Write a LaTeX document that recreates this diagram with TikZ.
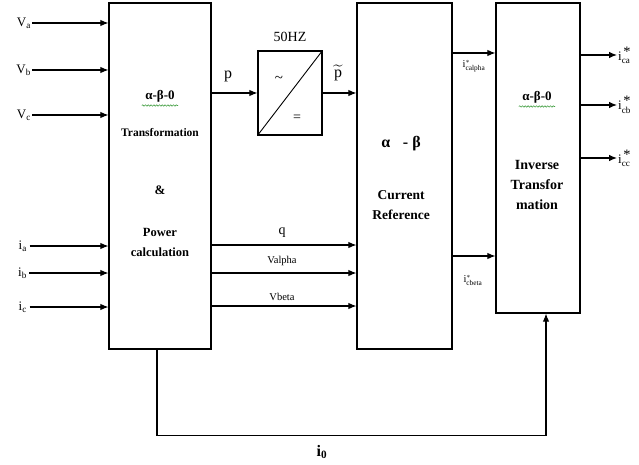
\documentclass[tikz,border=0pt]{standalone}
\usepackage{amsmath}
\usepackage{fontspec}
\setmainfont{Liberation Serif}
\usetikzlibrary{arrows.meta,positioning,decorations.pathmorphing}
\definecolor{wavyGreen}{RGB}{70,160,70}

\begin{document}
\begin{tikzpicture}[x=1pt,y=-1pt,
    blk/.style={draw,line width=1.2pt,inner sep=0pt},
    sig/.style={-{Latex[length=8pt,width=6.5pt]},line width=1.1pt},
    lbl/.style={font=\fontsize{13}{14}\selectfont,inner sep=1pt},
    small/.style={font=\fontsize{10.5}{11}\selectfont,inner sep=1pt},
    btxt/.style={font=\fontsize{11.5}{13}\selectfont\bfseries,align=center},
    wavy/.style={wavyGreen,line width=0.6pt,decorate,decoration={snake,amplitude=0.7pt,segment length=2.8pt}}]
  \useasboundingbox (0,0) rectangle (639,465);
  % blocks
  \node[blk,minimum width=102pt,minimum height=346pt] (clarke) at (160,176) {};
  \node[blk,minimum width=64pt,minimum height=84pt] (lpf) at (290,93) {};
  \node[blk,minimum width=95pt,minimum height=346pt] (curref) at (404.5,176) {};
  \node[blk,minimum width=84pt,minimum height=310pt] (invt) at (538,158) {};
  % block texts
  \node[btxt,font=\fontsize{13}{14}\selectfont\bfseries] (abz) at (160,96) {α-β-0};
  \draw[wavy] (abz.south west) -- (abz.south east);
  \node[btxt] (trans) at (160,133) {Transformation};
  \node[btxt,font=\fontsize{13}{14}\selectfont\bfseries] (amp) at (160,190) {\&};
  \node[btxt,font=\fontsize{12.5}{20}\selectfont\bfseries] (power) at (160,242) {Power\\calculation};
  \node[btxt,font=\fontsize{16}{17}\selectfont\bfseries] (ab) at (401,144) {α\hspace{0.8em}- β};
  \node[btxt,font=\fontsize{13.5}{20}\selectfont\bfseries] (cref) at (401,205) {Current\\Reference};
  \node[btxt,font=\fontsize{13}{14}\selectfont\bfseries] (abzi) at (537,97) {α-β-0};
  \draw[wavy] (abzi.south west) -- (abzi.south east);
  \node[btxt,font=\fontsize{14}{20}\selectfont\bfseries] (inv) at (537,185) {Inverse\\Transfor\\mation};
  % filter
  \node[font=\fontsize{14}{15}\selectfont] (hz) at (290,37) {50HZ};
  \draw[line width=0.9pt] (lpf.south west) -- (lpf.north east);
  \node[font=\fontsize{15}{15}\selectfont] (tl) at (279,79) {\textasciitilde};
  \node[font=\fontsize{14}{14}\selectfont] (eq) at (297,118) {=};
  % inputs
  \foreach \nm/\lab/\yy in {va/V\textsubscript{a}/23,vb/V\textsubscript{b}/70,vc/V\textsubscript{c}/115}{
    \node[lbl,anchor=east] (\nm) at (32,\yy) {\lab};
    \draw[sig] (\nm) -- (\nm -| clarke.west);
  }
  \foreach \nm/\lab/\yy in {ia/i\textsubscript{a}/246,ib/i\textsubscript{b}/273,ic/i\textsubscript{c}/307}{
    \node[lbl,anchor=east] (\nm) at (28,\yy) {\lab};
    \draw[sig] (\nm) ++(7,0) -- (\nm -| clarke.west);
  }
  % p and p tilde
  \draw[sig] (clarke.east |- lpf) -- (lpf);
  \node[font=\fontsize{16}{16}\selectfont] (plab) at (228,76) {p};
  \draw[sig] (lpf) -- (lpf -| curref.west);
  \node[font=\fontsize{16}{16}\selectfont] (ptl) at (338,73) {$\widetilde{\mathrm{p}}$};
  % q, valpha, vbeta
  \foreach \yy in {245,273,306}{
    \draw[sig] (clarke.east |- 0,\yy) -- (curref.west |- 0,\yy);
  }
  \node[font=\fontsize{14}{14}\selectfont] (qlab) at (282,233) {q};
  \node[small] (valpha) at (282,261) {Valpha};
  \node[small] (vbeta) at (282,297) {Vbeta};
  % reference currents
  \draw[sig] (curref.east |- 0,53) -- (invt.west |- 0,53);
  \node[small] (ialpha) at (474,66) {i$^{*}_{\text{calpha}}$};
  \draw[sig] (curref.east |- 0,256) -- (invt.west |- 0,256);
  \node[small] (ibeta) at (473,280) {i$^{*}_{\text{cbeta}}$};
  % outputs
  \foreach \nm/\lab/\yy in {ica/ca/55,icb/cb/105,icc/cc/158}{
    \node[lbl,anchor=west,font=\fontsize{13}{14}\selectfont] (\nm) at (617,\yy) {i$^{\,\text{\Large *}}_{\text{\lab}}$};
    \draw[sig] (invt.east |- \nm.west) -- (\nm.west);
  }
  % i0 feedback
  \draw[sig] ([xshift=-3pt]clarke.south) -- ++(0,86) -| ([xshift=8pt]invt.south);
  \node[font=\fontsize{16}{16}\selectfont\bfseries] (izero) at (322,452) {i\textsubscript{0}};
\end{tikzpicture}
\end{document}
